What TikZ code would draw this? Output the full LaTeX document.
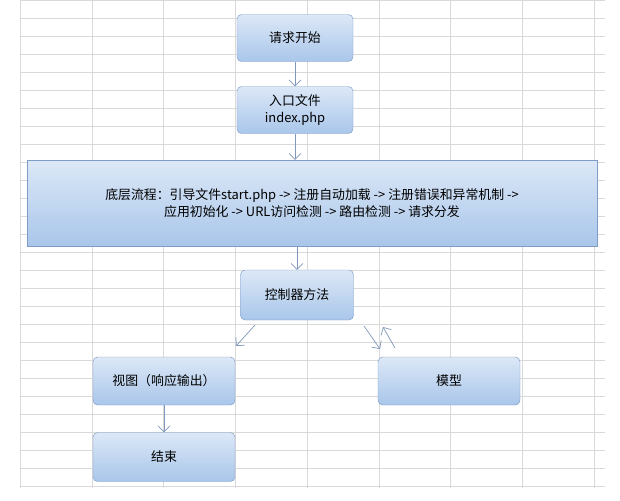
\documentclass[tikz,border=0pt]{standalone}
\usepackage{fontspec}
\setmainfont{Noto Sans CJK SC}
\usepackage{tikz}
\usetikzlibrary{positioning,arrows.meta}
\definecolor{boxtop}{HTML}{DCE8F7}
\definecolor{boxbot}{HTML}{A9C6EA}
\definecolor{boxline}{HTML}{7E9CC6}
\definecolor{arrowc}{HTML}{8098BC}

\begin{document}
\begin{tikzpicture}[x=0.03cm,y=-0.03cm,
  stepbox/.style={draw=boxline,rounded corners=4pt,top color=boxtop,bottom color=boxbot,font=\fontsize{11}{15}\selectfont,align=center},
  flow/.style={-{Straight Barb[length=5pt]},arrowc,semithick}]
\useasboundingbox (0,0) rectangle (620,500);
\fill[white] (0,0) rectangle (620,500);
% spreadsheet grid
\foreach\x in {20,92,163,235,307,379,450,522,594}
\draw[gray!30,thin] (\x,0) -- (\x,488);
\foreach\y in {0,18,...,486}
\draw[gray!30,thin] (20,\y) -- (605,\y);

\node[stepbox,minimum width=116*0.03cm,minimum height=47*0.03cm] (start) at (295,38) {请求开始};
\node[stepbox,minimum width=116*0.03cm,minimum height=47*0.03cm] (entry) at (295,110) {入口文件\\index.php};
\node[stepbox,rounded corners=0pt,minimum width=570*0.03cm,minimum height=86*0.03cm] (base) at (312,203)
  {底层流程：引导文件start.php -> 注册自动加载 -> 注册错误和异常机制 ->\\应用初始化 -> URL访问检测 -> 路由检测 -> 请求分发};
\node[stepbox,minimum width=113*0.03cm,minimum height=50*0.03cm] (ctrl) at (297,295) {控制器方法};
\node[stepbox,minimum width=142*0.03cm,minimum height=48*0.03cm] (view) at (164,381) {视图（响应输出）};
\node[stepbox,minimum width=142*0.03cm,minimum height=48*0.03cm] (model) at (449,381) {模型};
\node[stepbox,minimum width=142*0.03cm,minimum height=49*0.03cm] (end) at (164,457) {结束};

\coordinate (c1) at (255,325);
\coordinate (v1) at (236,346);
\coordinate (c2) at (364,326);
\coordinate (m2) at (380,349);
\coordinate (m3) at (395,348);
\coordinate (c3) at (383,327);

\draw[flow] (start) -- (entry);
\draw[flow] (entry.south) -- (entry.south|-base.north);
\draw[flow] (base.south-|ctrl) -- (ctrl);
\draw[flow] (c1) -- (v1);
\draw[flow] (c2) -- (m2);
\draw[flow] (m3) -- (c3);
\draw[flow] (view) -- (end);
\end{tikzpicture}
\end{document}
